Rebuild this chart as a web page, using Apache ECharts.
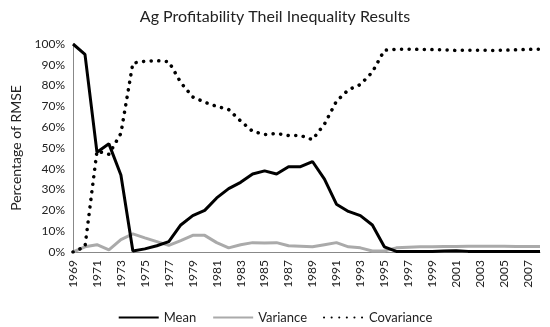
<!DOCTYPE html>
<html>
<head>
<meta charset="utf-8">
<script src="https://cdn.jsdelivr.net/npm/echarts@6/dist/echarts.min.js"></script>
<style>html,body{margin:0;padding:0;background:#fff}#c{width:550px;height:327px}</style>
</head>
<body>
<div id="c"></div>
<script>
const years = ['1969','1970','1971','1972','1973','1974','1975','1976','1977','1978','1979','1980','1981','1982','1983','1984','1985','1986','1987','1988','1989','1990','1991','1992','1993','1994','1995','1996','1997','1998','1999','2000','2001','2002','2003','2004','2005','2006','2007','2008'];
const meanVals = [100,95,48,52,37,0.5,1.5,3,5,13,17.5,20,26,30.5,33.5,37.5,39,37.5,41,41,43.5,35,23,19.5,17.5,13,2.5,0.3,0.2,0.2,0.3,0.5,0.6,0.3,0.2,0.2,0.2,0.2,0.3,0.3];
const varianceVals = [0,2.5,3.5,1,6,8.7,6.8,5,3.2,5.5,8,8,4.5,2,3.5,4.5,4.3,4.5,3,2.8,2.5,3.5,4.5,2.5,2,0.5,0.5,2,2.3,2.5,2.5,2.6,2.7,2.8,2.8,2.8,2.8,2.7,2.7,2.7];
const covarianceVals = [0,2.5,48.5,47,57,90.8,91.7,92,91.5,81.5,74.5,72,70,68.5,63,58,56.5,57,56,56,54,61.5,72.5,78,80.5,86.5,97,97.5,97.5,97.4,97.3,97.2,96.9,97,97,96.9,97,97.2,97.4,97.5];
const yTicks = [0,10,20,30,40,50,60,70,80,90,100];

const font = 'Lato';
const chart = echarts.init(document.getElementById('c'), null, {renderer:'canvas'});
chart.setOption({
  animation:false,
  backgroundColor:'#fff',
  title:{text:'Ag Profitability Theil Inequality Results',left:'center',top:4,
    textStyle:{fontFamily:font,fontSize:16,fontWeight:'normal',color:'#222'}},
  grid:{left:73,right:10,top:44,bottom:75},
  legend:{top:306,left:'center',itemWidth:40,itemHeight:12,itemGap:16,
    itemStyle:{opacity:0},
    textStyle:{fontFamily:font,fontSize:13,color:'#222'},
    data:['Mean','Variance','Covariance']},
  xAxis:{type:'category',data:years,boundaryGap:false,
    axisLine:{lineStyle:{color:'#888',width:1}},
    axisTick:{show:false},
    axisLabel:{rotate:90,interval:1,fontFamily:font,fontSize:12,color:'#222',margin:8}},
  yAxis:{type:'value',min:yTicks[0],max:yTicks[yTicks.length-1],interval:10,
    name:'Percentage of RMSE',nameLocation:'middle',nameGap:50,
    nameTextStyle:{fontFamily:font,fontSize:14,color:'#222'},
    axisLine:{show:true,lineStyle:{color:'#888',width:1}},
    axisTick:{show:false},splitLine:{show:false},
    axisLabel:{formatter:'{value}%',fontFamily:font,fontSize:12,color:'#222',margin:8}},
  series:[
    {name:'Mean',type:'line',data:meanVals,symbol:'none',z:3,
      lineStyle:{color:'#000',width:3},itemStyle:{color:'#000'}},
    {name:'Variance',type:'line',data:varianceVals,symbol:'none',z:2,
      lineStyle:{color:'#aaa',width:3},itemStyle:{color:'#aaa'}},
    {name:'Covariance',type:'line',data:covarianceVals,symbol:'none',z:4,
      lineStyle:{color:'#000',width:3.5,type:[0.1,7.5],cap:'round'},itemStyle:{color:'#000'}}
  ]
});
</script>
</body>
</html>
